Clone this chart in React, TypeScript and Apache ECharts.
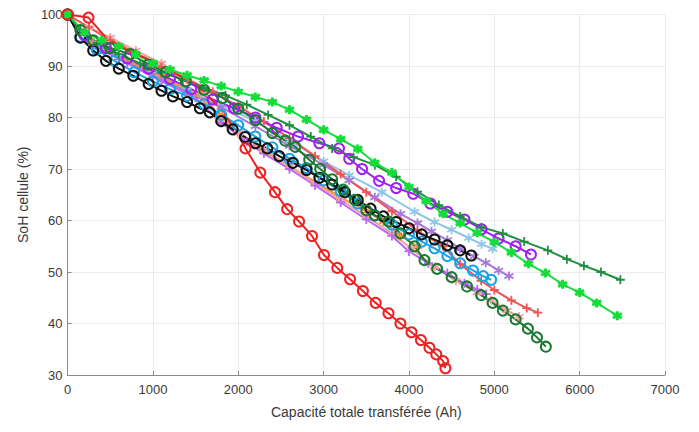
import React, { useEffect, useRef } from "react";
import * as echarts from "echarts";

const xTicks = [0, 1000, 2000, 3000, 4000, 5000, 6000, 7000];
const yTicks = [30, 40, 50, 60, 70, 80, 90, 100];

const redCircles = [[0,100],[245,99.4],[450,95.5],[700,93],[920,91.5],[1150,89.5],[1400,87.3],[1600,85],[1800,81.5],[1950,78],[2085,74],[2258,69.3],[2430,65.5],[2573,62.2],[2712,59.8],[2864,57],[3004,53.3],[3160,50.8],[3310,48.6],[3460,46.3],[3610,44],[3760,42],[3900,40],[4030,38.3],[4140,36.8],[4240,35.3],[4320,34],[4400,32.7],[4427,31.3]];
const brightGreen = [[0,100],[200,96.5],[400,95],[600,93.8],[800,92.3],[1000,90.5],[1200,89.3],[1400,88.2],[1600,87.2],[1800,86.1],[2000,85],[2200,84],[2400,83],[2600,81.5],[2800,79.6],[3000,77.6],[3200,75.8],[3400,73.9],[3600,71.2],[3800,69.3],[4000,66.5],[4200,63.8],[4400,61.3],[4600,59.5],[4800,57.6],[5000,55.8],[5200,53.8],[5400,51.6],[5600,49.8],[5800,47.6],[6000,46],[6200,44],[6442,41.5]];
const darkGreenPlus = [[0,100],[150,97],[350,94.5],[600,92.3],[850,90.5],[1100,88.8],[1350,87.3],[1600,85.8],[1850,84.3],[2100,82.5],[2350,80.5],[2600,78.5],[2850,76.3],[3100,74],[3350,72.3],[3600,70.8],[3850,68.5],[4100,65.6],[4350,63],[4600,60.8],[4850,58.7],[5100,57.5],[5350,55.9],[5627,54.2],[5850,52.5],[6050,51.2],[6250,50],[6477,48.5]];
const purpleCircles = [[0,100],[200,96],[450,93.5],[700,91.5],[950,89.5],[1200,87.5],[1450,85.5],[1700,83.5],[1950,81.8],[2200,80],[2450,78],[2700,76.3],[2950,75],[3180,74],[3300,72],[3450,70],[3650,67.7],[3850,66.3],[4050,65.2],[4250,63.3],[4450,61.7],[4650,60.2],[4850,58.3],[5050,56.5],[5250,55],[5429,53.4]];
const blackCircles = [[0,100],[150,95.5],[300,93],[450,91],[600,89.5],[770,88.1],[950,86.5],[1100,85.2],[1235,84.1],[1400,83],[1550,81.8],[1666,81],[1800,79.3],[1934,77.7],[2080,76.2],[2200,75],[2340,74],[2480,72.5],[2640,71.2],[2800,69.8],[2950,68.3],[3100,67],[3250,65.5],[3400,64],[3550,62.3],[3700,60.8],[3850,59.7],[4000,58.5],[4150,57.3],[4300,56.3],[4450,55.2],[4600,54.2],[4730,53.2]];
const cyanCircles = [[0,100],[150,95.7],[340,93.2],[550,91],[780,88.8],[1000,87],[1200,85.5],[1400,84.2],[1600,82.6],[1800,80.5],[2000,78.5],[2200,76.3],[2400,74.2],[2600,72],[2800,70.2],[3000,67.8],[3200,65.7],[3400,63.3],[3600,61],[3800,59.2],[4000,57.3],[4150,55.9],[4300,54.6],[4450,53.1],[4600,51.7],[4750,50.3],[4870,49.2],[4963,48.5]];
const lightPurpleStars = [[0,100],[300,94],[600,91.5],[1000,88.2],[1400,85],[1800,82],[2200,78.3],[2600,74.5],[3000,70.8],[3300,67.8],[3600,64.5],[3900,61.3],[4100,59.5],[4264,57.9],[4450,56.2],[4600,54.5],[4765,53],[4900,51.8],[5050,50.3],[5172,49.2]];
const lightBlueStars = [[0,100],[300,94.5],[600,91.8],[1000,88.5],[1400,85.4],[1800,82.5],[2200,79.2],[2600,75.5],[3000,71.5],[3300,68.8],[3682,65.5],[4066,61.7],[4300,59.7],[4500,58.2],[4700,56.6],[4850,55.4],[4980,54.5]];
const salmonPlus = [[0,100],[250,97.5],[500,95],[800,92.5],[1100,89.8],[1400,87.5],[1700,85],[2000,82.2],[2300,79.2],[2600,76],[2900,72.5],[3200,69],[3500,65.5],[3800,61.8],[4100,58],[4400,55],[4600,51.5],[4846,48.3],[5000,46.5],[5200,44.5],[5380,43],[5510,42.1]];
const pinkStars = [[0,100],[250,97.5],[500,95.5],[800,93],[1100,90.5],[1400,87.5],[1600,84.5],[1780,79.5],[2000,77],[2300,73.8],[2600,70.5],[2900,67.2],[3200,64],[3500,60.8],[3800,57.5],[4030,54.5],[4300,51],[4550,48.3],[4800,46],[4963,44.5],[5150,42.5],[5289,41.3]];
const violetPlus = [[0,100],[300,94],[700,90.5],[1100,87],[1500,83.8],[1800,79],[2100,75.3],[2300,73],[2600,70],[2900,66.8],[3200,63.5],[3500,60.2],[3800,57],[4000,54],[4229,51.7],[4450,49.8],[4650,47.8],[4800,46.6],[4905,45.7]];
const orangeStars = [[0,100],[300,94.5],[700,91],[1100,88],[1500,84.5],[1783,80.5],[2000,77],[2300,73.5],[2600,70.5],[2900,67.5],[3200,64.5],[3500,61.8],[3700,59.8],[3900,57],[4100,55]];
const darkGreenCircles = [[0,100],[150,97],[300,95],[500,93.5],[734,92.3],[950,90.3],[1150,88.8],[1386,87],[1600,85.4],[1817,83.8],[2000,81.7],[2202,79.5],[2400,77],[2550,75.5],[2668,74.3],[2831,71.8],[2960,70],[3099,68],[3230,66],[3367,64],[3500,62],[3600,61],[3763,59.8],[3900,57.5],[4066,55],[4182,52.3],[4330,50.6],[4500,49],[4680,47.2],[4846,45.5],[4980,44],[5100,42.5],[5250,40.8],[5394,39],[5500,37.3],[5604,35.5]];

const CIRCLE = "circle";
const STAR = "path://M0,-5L0,5M-4.33,-2.5L4.33,2.5M-4.33,2.5L4.33,-2.5";
const PLUS = "path://M0,-5L0,5M-5,0L5,0";

const seriesDefs: [string, number[][], string, string][] = [
  ["lb", lightBlueStars, "#8ec6ea", STAR],
  ["lp", lightPurpleStars, "#a878d8", STAR],
  ["o", orangeStars, "#f39040", STAR],
  ["pk", pinkStars, "#f4a0a0", STAR],
  ["sr", salmonPlus, "#f05555", PLUS],
  ["v", violetPlus, "#b868f5", PLUS],
  ["c", cyanCircles, "#1aa3e8", CIRCLE],
  ["k", blackCircles, "#111111", CIRCLE],
  ["p", purpleCircles, "#a020f0", CIRCLE],
  ["d", darkGreenPlus, "#1f9040", PLUS],
  ["dc", darkGreenCircles, "#1a7a30", CIRCLE],
  ["g", brightGreen, "#14dd3a", STAR],
  ["r", redCircles, "#ee2222", CIRCLE],
];

export default function App() {
  const ref = useRef<HTMLDivElement>(null);
  useEffect(() => {
    const chart = echarts.init(ref.current!, undefined, { renderer: "svg" });
    const font = "'Liberation Sans', Arial, sans-serif";
    chart.setOption({
      animation: false,
      backgroundColor: "#ffffff",
      grid: { left: 56, right: 26, top: 6, bottom: 39 },
      xAxis: {
        type: "value",
        min: xTicks[0],
        max: xTicks[xTicks.length - 1],
        interval: 1000,
        name: "Capacité totale transférée (Ah)",
        nameLocation: "middle",
        nameGap: 30,
        nameTextStyle: { color: "#3a3a3a", fontSize: 14, fontFamily: font },
        axisLine: { show: true, lineStyle: { color: "#8a8a8a", width: 1 } },
        axisTick: { show: true, inside: true, length: 4, lineStyle: { color: "#8a8a8a" } },
        axisLabel: { color: "#3a3a3a", fontSize: 13, fontFamily: font, margin: 8, formatter: (v: number) => String(v) },
        splitLine: { show: true, lineStyle: { color: "#ebebeb", width: 1 } },
      },
      yAxis: {
        type: "value",
        min: yTicks[0],
        max: yTicks[yTicks.length - 1],
        interval: 10,
        name: "SoH cellule (%)",
        nameLocation: "middle",
        nameGap: 34,
        nameTextStyle: { color: "#3a3a3a", fontSize: 14, fontFamily: font },
        axisLine: { show: true, lineStyle: { color: "#8a8a8a", width: 1 } },
        axisTick: { show: true, inside: true, length: 4, lineStyle: { color: "#8a8a8a" } },
        axisLabel: { color: "#3a3a3a", fontSize: 13, fontFamily: font, margin: 5, formatter: (v: number) => String(v) },
        splitLine: { show: true, lineStyle: { color: "#ebebeb", width: 1 } },
      },
      series: seriesDefs.map(([name, data, color, symbol]) => ({
        name,
        type: "line",
        data:
          name === "r"
            ? data.map((p) => (p[0] > 300 && p[0] < 2000 ? { value: p, symbol: "none" } : p))
            : data,
        symbol,
        symbolSize: symbol === CIRCLE ? 10 : 9,
        showAllSymbol: true,
        lineStyle: { color, width: 2 },
        itemStyle: {
          color: symbol === CIRCLE ? "rgba(0,0,0,0)" : color,
          borderColor: color,
          borderWidth: symbol === CIRCLE ? 2 : name === "g" ? 3 : 1.8,
        },
        emphasis: { disabled: true },
        z: 2,
      })),
    });
    return () => chart.dispose();
  }, []);
  return <div ref={ref} style={{ width: 683, height: 416 }} />;
}
